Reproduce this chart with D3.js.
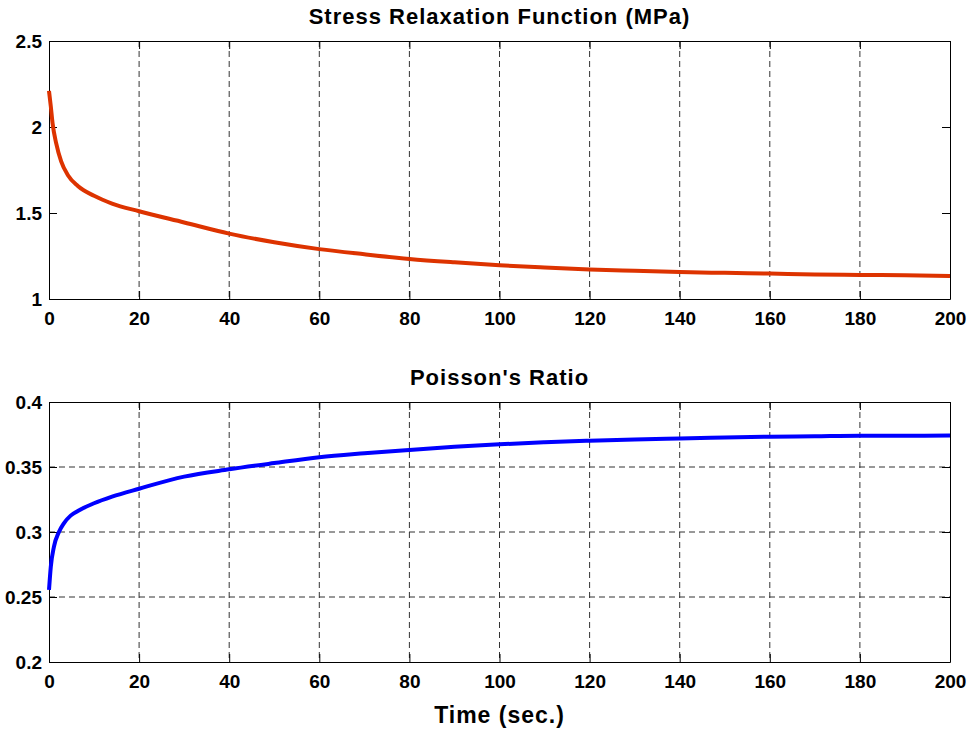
<!DOCTYPE html>
<html>
<head>
    <meta charset="UTF-8">
    <script src="https://d3js.org/d3.v7.min.js"></script>
    <style>
        body { margin: 0; background: #fff; }
        text { font-family: "Liberation Sans", Arial, sans-serif; font-weight: bold; }
    </style>
</head>
<body>
    <svg id="chart" width="975" height="734"></svg>
    <script>
        // Stress relaxation (MPa) vs time
        const stressTime = [0, 0.4, 0.8, 1.6, 2.7, 4.2, 6.4, 10, 14, 20, 30, 40, 50, 60, 70, 80, 90, 100,
            110, 120, 130, 140, 150, 160, 170, 180, 190, 200];
        const stressValues = [2.21, 2.12, 2.02, 1.905, 1.80, 1.72, 1.657, 1.60, 1.555, 1.51, 1.445, 1.38, 1.33, 1.29,
            1.26, 1.233, 1.213, 1.196, 1.183, 1.172, 1.164, 1.157, 1.152, 1.148, 1.143, 1.14, 1.138, 1.134];

        // Poisson's ratio vs time
        const poissonTime = [0, 0.4, 1.1, 2.2, 3.3, 4.8, 6.4, 10, 14, 20, 30, 40, 50, 60, 70, 80, 90, 100,
            110, 120, 130, 140, 150, 160, 170, 180, 190, 200];
        const poissonValues = [0.2554, 0.2733, 0.2887, 0.300, 0.3067, 0.3126, 0.3162, 0.3221, 0.3272, 0.3333,
            0.3426, 0.3482, 0.353, 0.3575, 0.3605, 0.3631, 0.3655, 0.3675, 0.369, 0.3702, 0.3712, 0.372,
            0.3727, 0.3733, 0.3737, 0.3741, 0.3741, 0.3742];

        const xTicks = [0, 20, 40, 60, 80, 100, 120, 140, 160, 180, 200];
        const stressTicks = [1, 1.5, 2, 2.5];
        const poissonTicks = [0.2, 0.25, 0.3, 0.35, 0.4];

        const svg = d3.select("#chart");
        const left = 49, right = 950;

        const x = d3.scaleLinear().domain([0, 200]).range([left, right]);

        function panel(cfg) {
            const y = d3.scaleLinear().domain(cfg.domain).range([cfg.bottom, cfg.top]);
            const g = svg.append("g");

            // grid
            g.selectAll(".vgrid").data(xTicks.slice(1, -1)).enter().append("line")
                .attr("x1", d => x(d)).attr("x2", d => x(d))
                .attr("y1", cfg.top).attr("y2", cfg.bottom)
                .attr("stroke", "#333").attr("stroke-dasharray", "6,4");
            if (cfg.hgrid) {
                g.selectAll(".hgrid").data(cfg.ticks.slice(1, -1)).enter().append("line")
                    .attr("x1", left).attr("x2", right)
                    .attr("y1", d => y(d)).attr("y2", d => y(d))
                    .attr("stroke", "#333").attr("stroke-dasharray", "6,4");
            }

            // axes (ticks inward, box on all sides)
            const fmt = d => String(d);
            g.append("g").attr("transform", `translate(0,${cfg.bottom})`)
                .call(d3.axisBottom(x).tickValues(xTicks).tickSizeInner(-8).tickSizeOuter(0).tickPadding(13).tickFormat(fmt));
            g.append("g").attr("transform", `translate(0,${cfg.top})`)
                .call(d3.axisTop(x).tickValues(xTicks).tickSizeInner(-8).tickSizeOuter(0).tickFormat(""));
            g.append("g").attr("transform", `translate(${left},0)`)
                .call(d3.axisLeft(y).tickValues(cfg.ticks).tickSizeInner(-8).tickSizeOuter(0).tickPadding(7).tickFormat(fmt));
            g.append("g").attr("transform", `translate(${right},0)`)
                .call(d3.axisRight(y).tickValues(cfg.ticks).tickSizeInner(-8).tickSizeOuter(0).tickFormat(""));
            g.selectAll(".domain").attr("stroke", "#000");
            g.selectAll(".tick line").attr("stroke", "#000");
            g.selectAll(".tick text").style("font-size", "19px").attr("fill", "#000");

            // curve
            const pts = cfg.t.map((t, i) => [t, cfg.v[i]]);
            g.append("path")
                .datum(pts)
                .attr("fill", "none")
                .attr("stroke", cfg.color)
                .attr("stroke-width", 4)
                .attr("stroke-linejoin", "round")
                .attr("d", d3.line().x(d => x(d[0])).y(d => y(d[1])).curve(d3.curveMonotoneX));

            g.append("text")
                .attr("x", (left + right) / 2)
                .attr("y", cfg.top - 17)
                .attr("text-anchor", "middle")
                .style("font-size", "22px")
                .style("letter-spacing", "1px")
                .text(cfg.title);
        }

        panel({ top: 41, bottom: 299, domain: [1, 2.5], ticks: stressTicks, hgrid: false,
            t: stressTime, v: stressValues, color: "#dd3300", title: "Stress Relaxation Function (MPa)" });
        panel({ top: 402, bottom: 662, domain: [0.2, 0.4], ticks: poissonTicks, hgrid: true,
            t: poissonTime, v: poissonValues, color: "#0000ff", title: "Poisson's Ratio" });

        svg.append("text")
            .attr("x", (left + right) / 2)
            .attr("y", 723)
            .attr("text-anchor", "middle")
            .style("font-size", "23px")
            .style("letter-spacing", "1px")
            .text("Time (sec.)");
    </script>
</body>
</html>
